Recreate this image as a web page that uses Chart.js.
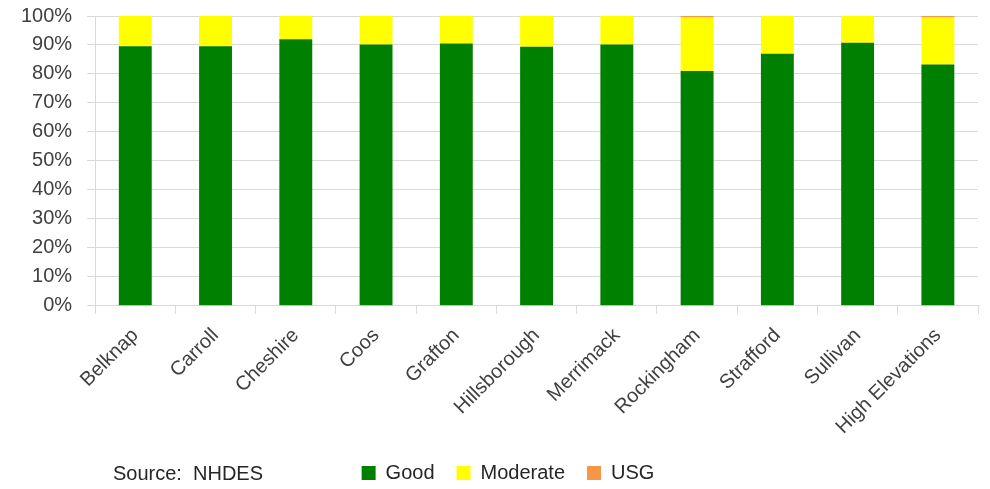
<!DOCTYPE html>
<html>
<head>
<meta charset="utf-8">
<script src="https://cdn.jsdelivr.net/npm/chart.js@4.4.1/dist/chart.umd.min.js"></script>
<style>
  html, body { margin: 0; padding: 0; background: #fff; }
  #wrap { position: relative; width: 990px; height: 489px; }
  #source {
    position: absolute; left: 113px; top: 462px;
    font: 20px "Liberation Sans", Arial, sans-serif; color: #262626;
  }
</style>
</head>
<body>
<div id="wrap">
  <canvas id="aqi-chart" width="990" height="489"></canvas>
  <div id="source">Source:&nbsp; NHDES</div>
</div>
<script>
// Counties / regions along the x axis
const regions = ['Belknap', 'Carroll', 'Cheshire', 'Coos', 'Grafton', 'Hillsborough',
  'Merrimack', 'Rockingham', 'Strafford', 'Sullivan', 'High Elevations'];

// Share of days in each AQI category (percent)
const good     = [89.6, 89.6, 92.0, 90.2, 90.5, 89.4, 90.2, 81.0, 87.0, 90.8, 83.3];
const moderate = [10.4, 10.4,  8.0,  9.8,  9.5, 10.6,  9.8, 18.5, 13.0,  9.2, 16.2];
const usg      = [ 0.0,  0.0,  0.0,  0.0,  0.0,  0.0,  0.0,  0.5,  0.0,  0.0,  0.5];

const yTicks = [0, 10, 20, 30, 40, 50, 60, 70, 80, 90, 100];

const font = '"Liberation Sans", Arial, sans-serif';
const axisColor = '#404040';
const gridColor = '#d9d9d9';

// nudge the legend a bit to the right, like the original
const legendShift = {
  id: 'legendShift',
  afterLayout(chart) {
    chart.legend.left += 16;
    chart.legend.right += 16;
  }
};

new Chart(document.getElementById('aqi-chart'), {
  type: 'bar',
  data: {
    labels: regions,
    datasets: [
      { label: 'Good', data: good, backgroundColor: '#008000' },
      { label: 'Moderate', data: moderate, backgroundColor: '#ffff00' },
      { label: 'USG', data: usg, backgroundColor: '#f79646' }
    ]
  },
  plugins: [legendShift],
  options: {
    responsive: false,
    animation: false,
    layout: { padding: { left: 6, right: 12, top: 16, bottom: -4 } },
    datasets: { bar: { categoryPercentage: 1, barPercentage: 0.41 } },
    plugins: {
      tooltip: { enabled: false },
      legend: {
        position: 'bottom',
        labels: {
          font: { family: font, size: 20 },
          color: '#262626',
          boxWidth: 14,
          boxHeight: 14,
          padding: 22
        }
      }
    },
    scales: {
      x: {
        stacked: true,
        afterFit: axis => { axis.height -= 8; },
        grid: { display: true, drawOnChartArea: false, offset: true, color: gridColor, tickLength: 8 },
        border: { color: gridColor },
        ticks: {
          font: { family: font, size: 20 },
          color: axisColor,
          maxRotation: 45,
          minRotation: 45,
          padding: 10
        }
      },
      y: {
        stacked: true,
        min: 0,
        max: 100,
        afterBuildTicks: axis => { axis.ticks = yTicks.map(v => ({ value: v })); },
        afterFit: axis => { axis.paddingTop = 0; },
        grid: { color: gridColor, tickLength: 8 },
        border: { color: gridColor },
        ticks: {
          font: { family: font, size: 20 },
          color: axisColor,
          padding: 15,
          callback: v => v + '%'
        }
      }
    }
  }
});
</script>
</body>
</html>
